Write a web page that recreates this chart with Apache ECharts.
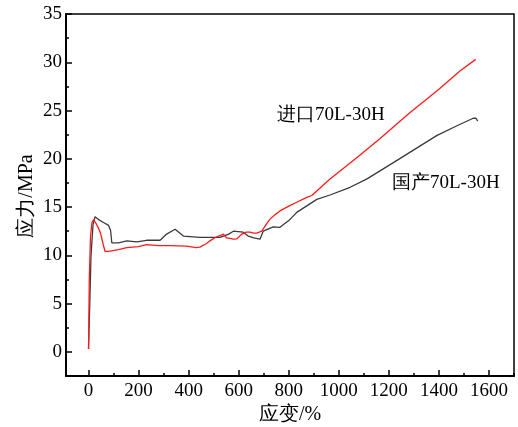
<!DOCTYPE html>
<html><head><meta charset="utf-8">
<script src="https://cdn.jsdelivr.net/npm/echarts@6/dist/echarts.min.js"></script>
<style>html,body{margin:0;padding:0;background:#fff}#c{width:518px;height:427px}</style>
</head><body><div id="c"></div>
<script>
const strainImported = [0,3,8,14,20,28,38,48,58,66,80,120,153,200,232,280,326,392,430,445,470,485,510,530,539,552,565,579,592,612,630,645,660,672,692,710,725,745,765,800,832,872,892,965,1085,1165,1280,1400,1484,1547];
const stressImported = [0.3,7.5,12.0,13.4,13.7,13.4,12.9,12.3,11.2,10.4,10.4,10.6,10.8,10.9,11.1,11.0,11.0,10.95,10.8,10.85,11.2,11.5,11.9,12.1,12.2,11.8,11.75,11.67,11.7,12.2,12.4,12.4,12.3,12.3,12.5,13.2,13.75,14.2,14.6,15.1,15.5,16.0,16.2,17.9,20.4,22.1,24.7,27.2,29.1,30.3];
const strainDomestic = [0,5,10,18,26,40,60,80,88,93,99,120,153,193,232,286,312,346,379,445,525,560,579,618,638,660,685,698,738,765,800,832,912,965,1045,1111,1218,1391,1470,1537,1548,1555];
const stressDomestic = [0.3,5,10,13.2,14.0,13.7,13.4,13.1,12.6,11.3,11.15,11.3,11.5,11.4,11.56,11.56,12.2,12.7,12.0,11.85,11.85,12.2,12.5,12.4,12.0,11.8,11.67,12.5,12.95,12.9,13.6,14.45,15.8,16.25,17.05,17.9,19.6,22.4,23.4,24.2,24.2,23.9];
const xMajorTicks = [0,200,400,600,800,1000,1200,1400,1600];
const xMinorTicks = [100,300,500,700,900,1100,1300,1500,1700];
const yMajorTicks = [0,5,10,15,20,25,30,35];
const yMinorTicks = [2.5,7.5,12.5,17.5,22.5,27.5,32.5];
const labelImported = '进口70L-30H';
const labelDomestic = '国产70L-30H';
const yAxisTitle = '应力/MPa';

const font = '"Liberation Serif","Times New Roman",serif';
const zip = (a,b)=>a.map((v,i)=>[v,b[i]]);
const chart = echarts.init(document.getElementById('c'));
const xBase = {type:'value',min:-90,max:1700,gridIndex:0,splitLine:{show:false}};
const yBase = {type:'value',min:-2.5,max:35,gridIndex:0,splitLine:{show:false}};
const fmt = v => String(v);
chart.setOption({
  animation:false,
  grid:{left:66,right:4,top:14,bottom:51,show:true,borderColor:'#000',borderWidth:1.5,
        containLabel:false,outerBoundsMode:'none'},
  xAxis:[
    Object.assign({},xBase,{name:'应变/%',nameLocation:'middle',nameGap:29,nameMoveOverlap:false,
      nameTextStyle:{fontFamily:font,fontSize:20,color:'#000'},
      axisLine:{onZero:false,lineStyle:{color:'#000',width:2}},
      axisTick:{inside:true,length:6,customValues:xMajorTicks,lineStyle:{color:'#000',width:1.5}},
      axisLabel:{customValues:xMajorTicks,formatter:fmt,fontFamily:font,fontSize:19,color:'#000',margin:6}}),
    Object.assign({},xBase,{position:'bottom',
      axisLine:{show:false,onZero:false},
      axisTick:{inside:true,length:3,customValues:xMinorTicks,lineStyle:{color:'#000',width:1.5}},
      axisLabel:{show:false}})
  ],
  yAxis:[
    Object.assign({},yBase,{
      axisLine:{onZero:false,lineStyle:{color:'#000',width:2}},
      axisTick:{inside:true,length:6,customValues:yMajorTicks,lineStyle:{color:'#000',width:1.5}},
      axisLabel:{customValues:yMajorTicks,formatter:fmt,fontFamily:font,fontSize:19,color:'#000',margin:4}}),
    Object.assign({},yBase,{position:'left',
      axisLine:{show:false,onZero:false},
      axisTick:{inside:true,length:3,customValues:yMinorTicks,lineStyle:{color:'#000',width:1.5}},
      axisLabel:{show:false}})
  ],
  series:[
    {type:'line',name:labelDomestic,data:zip(strainDomestic,stressDomestic),showSymbol:false,
     lineStyle:{color:'#3a3a3a',width:1.3},xAxisIndex:0,yAxisIndex:0},
    {type:'line',name:labelImported,data:zip(strainImported,stressImported),showSymbol:false,
     lineStyle:{color:'#ff1a1a',width:1.3},xAxisIndex:0,yAxisIndex:0}
  ],
  graphic:[
    {type:'text',x:27,y:196,rotation:Math.PI/2,
     style:{text:yAxisTitle,font:'20px '+font,fill:'#000',align:'center',verticalAlign:'middle'}},
    {type:'text',left:277,top:106,style:{text:labelImported,font:'19px '+font,fill:'#000'}},
    {type:'text',left:392,top:174,style:{text:labelDomestic,font:'19px '+font,fill:'#000'}}
  ]
});
</script></body></html>
